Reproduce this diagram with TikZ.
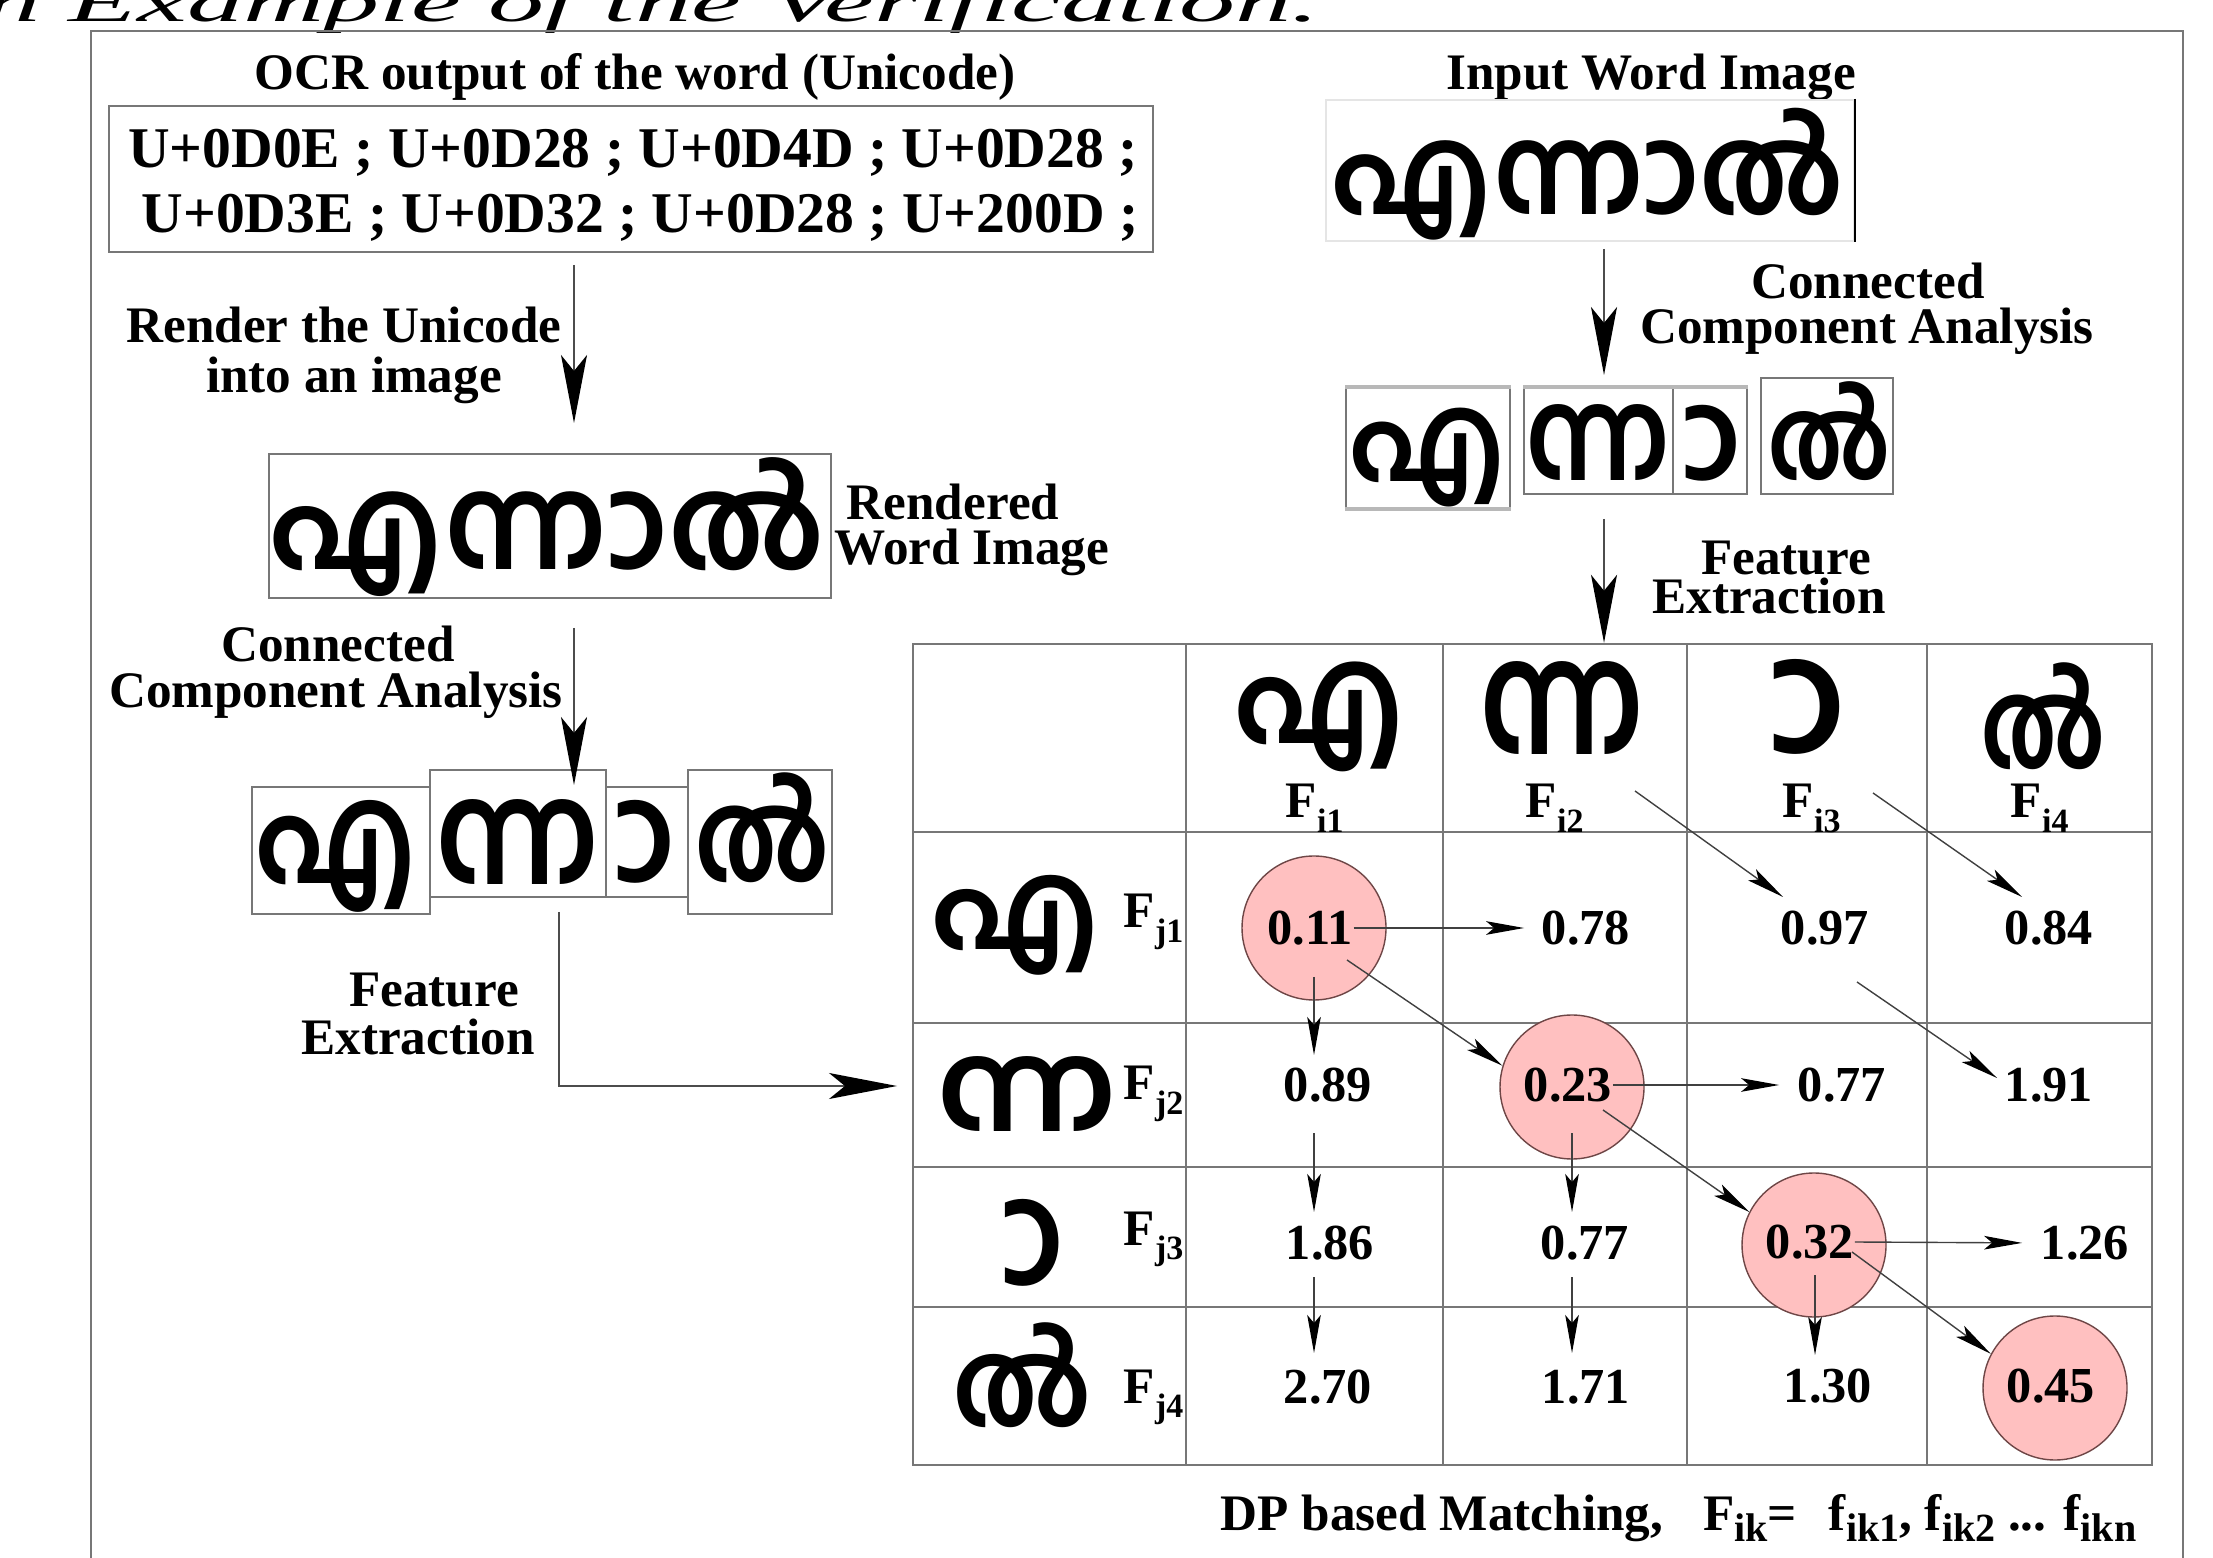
\documentclass[tikz,border=0pt]{standalone}
\usepackage{fontspec}
\usepackage{graphicx}
\setmainfont{Liberation Serif}
\newfontfamily\mal[Script=Malayalam]{Hind Kochi}
\usetikzlibrary{arrows.meta,fit}
\definecolor{frameg}{HTML}{777777}
\definecolor{pinkf}{RGB}{255,192,192}
\definecolor{circd}{RGB}{110,70,70}
\newcommand\mlw[3]{\resizebox*{#1}{#2}{\mal\bfseries #3}}
\newcommand\aamark{\setbox0=\hbox{\char"00A0}\hbox{\kern-\wd0\char"00A0ാ}}
\newcommand\fsub[1]{\raisebox{-3.6pt}{\fontsize{8.5}{9}\selectfont #1}}
\newcommand\csub[1]{\raisebox{-2.75pt}{\fontsize{10}{10}\selectfont #1}}
\begin{document}
\begin{tikzpicture}[x=0.25pt,y=-0.25pt,
  lbl/.style={font=\fontsize{12.8}{14}\selectfont\bfseries, inner sep=0, anchor=base},
  ulbl/.style={font=\fontsize{14.4}{16}\selectfont\bfseries, inner sep=0, anchor=base},
  num/.style={font=\fontsize{12.6}{14}\selectfont\bfseries, inner sep=0},
  flab/.style={font=\fontsize{12.8}{14}\selectfont\bfseries, inner sep=0, anchor=base west},
  gbox/.style={draw=frameg, line width=0.6pt, inner sep=0},
  gline/.style={draw=frameg, line width=0.6pt},
  glyph/.style={inner sep=0},
  circ/.style={circle, fill=pinkf, draw=circd, line width=0.35pt, minimum size=36pt, inner sep=0},
  big/.style={draw=black!70, line width=0.5pt, -{Stealth[length=17pt,width=6.5pt,inset=4pt,color=black]}},
  small/.style={draw=black!75, line width=0.35pt, -{Stealth[length=9.5pt,width=3.4pt,inset=2pt,color=black]}}]
\useasboundingbox (0,0) rectangle (2213,1558);

% title (cropped by the page edge, as in the reference)
\node[anchor=base east, inner sep=0] (title) at (1320,22)
  {\scalebox{2.0}[1]{\fontsize{14}{14}\selectfont\itshape An Example of the Verification.}};

% frame
\draw[gline] (91,1575) -- (91,31) -- (2183,31) -- (2183,1575);

% ---------- left column ----------
\node[lbl] (hocr) at (635,90) {OCR output of the word (Unicode)};
\node[gbox, fit={(109,106)(1153,252)}] (ucbox) {};
\node[ulbl] (uc1) at (633,168) {U+0D0E ; U+0D28 ; U+0D4D ; U+0D28 ;};
\node[ulbl] (uc2) at (640,233) {U+0D3E ; U+0D32 ; U+0D28 ; U+200D ;};

\node[lbl] (l1a) at (344,343) {Render the Unicode};
\node[lbl] (l1b) at (354,393) {into an image};
\coordinate (a1s) at (574,265);
\coordinate (a1e) at (574,423);
\draw[big] (a1s) -- (a1e);

\node[gbox, fit={(269,454)(831,598)}] (rbox) {};
\node[glyph] (rword) at (547,527.5) {\mlw{139pt}{34.75pt}{എന്നാൽ}};
\node[lbl] (l2a) at (953,520) {Rendered};
\node[lbl] (l2b) at (972,565) {Word Image};

\node[lbl] (l3a) at (338,662) {Connected};
\node[lbl] (l3b) at (336,708) {Component Analysis};
\coordinate (a2s) at (574,628);
\coordinate (a2e) at (574,785);

\node[gbox, fit={(252,787)(430,914)}] (lb1) {};
\node[gbox, fit={(430,770)(606,897)}] (lb2) {};
\node[gbox, fit={(606,787)(688,897)}] (lb3) {};
\node[gbox, fit={(688,770)(832,914)}] (lb4) {};
\node[glyph] (lg1) at (336,856) {\mlw{40.75pt}{28pt}{എ}};
\node[glyph] (lg2) at (518,842) {\mlw{41pt}{21.25pt}{ന്ന}};
\node[glyph] (lg3) at (645,842) {\mlw{15.25pt}{20.75pt}{\aamark}};
\node[glyph] (lg4) at (762,828) {\mlw{34pt}{27.5pt}{ൽ}};
\draw[big] (a2s) -- (a2e);

\node[lbl] (l4a) at (434,1007) {Feature};
\node[lbl] (l4b) at (418,1055) {Extraction};
\coordinate (a3s) at (559,912);
\coordinate (a3e) at (897,1086);
\draw[big] (a3s) |- (a3e);

% ---------- right column ----------
\node[lbl] (hin) at (1651,90) {Input Word Image};
\node[draw=black!10, line width=0.5pt, inner sep=0, fit={(1326,100)(1854,241)}] (inbox) {};
\draw[black, line width=0.4pt] (inbox.north east) -- (inbox.south east);
\node[glyph] (inword) at (1588,174) {\mlw{128.5pt}{33pt}{എന്നാൽ}};

\coordinate (a4s) at (1604,249);
\coordinate (a4e) at (1604,375);
\draw[big] (a4s) -- (a4e);
\node[lbl] (r1a) at (1868,299) {Connected};
\node[lbl] (r1b) at (1867,344) {Component Analysis};

\node[gbox, fit={(1346,388)(1510,508)}] (rb1) {};
\node[gbox, fit={(1524,388)(1673,494)}] (rb2) {};
\node[gbox, fit={(1673,388)(1747,494)}] (rb3) {};
\node[gbox, fit={(1761,378)(1893,494)}] (rb4) {};
\draw[black!28, line width=1pt] (rb1.north west) -- (rb1.north east);
\draw[black!28, line width=1pt] (rb1.south west) -- (rb1.south east);
\draw[black!28, line width=1pt] (rb2.north west) -- (rb3.north east);
\node[glyph] (rg1) at (1427,458) {\mlw{39.5pt}{24.75pt}{എ}};
\node[glyph] (rg2) at (1598,443) {\mlw{36.25pt}{19pt}{ന്ന}};
\node[glyph] (rg3) at (1712,443) {\mlw{14.75pt}{19pt}{\aamark}};
\node[glyph] (rg4) at (1829,431) {\mlw{31pt}{24.75pt}{ൽ}};

\node[lbl] (r2a) at (1786,575) {Feature};
\node[lbl] (r2b) at (1769,614) {Extraction};

% ---------- table ----------
\node[gbox, fit={(913,644)(2152,1465)}] (tbl) {};
\foreach \x in {1186,1443,1687,1927} \draw[gline] (\x,644) -- (\x,1465);
\foreach \y in {832,1023,1167,1307} \draw[gline] (913,\y) -- (2152,\y);
\coordinate (a5s) at (1604,519);
\draw[big] (a5s) -- (a5s |- tbl.north);

% header glyphs
\node[glyph] (hg1) at (1319,717) {\mlw{43pt}{27.5pt}{എ}};
\node[glyph] (hg2) at (1562,708) {\mlw{41.25pt}{23.25pt}{ന്ന}};
\node[glyph] (hg3) at (1808,707) {\mlw{19.25pt}{23.75pt}{\aamark}};
\node[glyph] (hg4) at (2043,716) {\mlw{31.5pt}{26.75pt}{ൽ}};
\node[flab] (fi1) at (1285,818) {F\fsub{i1}};
\node[flab] (fi2) at (1525,818) {F\fsub{i2}};
\node[flab] (fi3) at (1782,818) {F\fsub{i3}};
\node[flab] (fi4) at (2010,818) {F\fsub{i4}};

% row glyphs
\node[glyph] (vg1) at (1015,925) {\mlw{42.5pt}{25pt}{എ}};
\node[glyph] (vg2) at (1027,1094) {\mlw{45.25pt}{18.75pt}{ന്ന}};
\node[glyph] (vg3) at (1033,1243) {\mlw{15.75pt}{21.75pt}{\aamark}};
\node[glyph] (vg4) at (1022,1375) {\mlw{35pt}{26.25pt}{ൽ}};
\node[flab] (fj1) at (1123,928) {F\fsub{j1}};
\node[flab] (fj2) at (1123,1100) {F\fsub{j2}};
\node[flab] (fj3) at (1123,1245) {F\fsub{j3}};
\node[flab] (fj4) at (1123,1403) {F\fsub{j4}};

% optimal path circles
\node[circ] (c11) at (1314,928) {};
\node[circ] (c22) at (1572,1087) {};
\node[circ] (c33) at (1814,1245) {};
\node[circ] (c44) at (2055,1388) {};

% values
\node[num] (v11) at (1310,928) {0.11};
\node[num] (v12) at (1586,928) {0.78};
\node[num] (v13) at (1825,928) {0.97};
\node[num] (v14) at (2049,928) {0.84};
\node[num] (v21) at (1328,1085) {0.89};
\node[num] (v22) at (1568,1085) {0.23};
\node[num] (v23) at (1842,1085) {0.77};
\node[num] (v24) at (2049,1085) {1.91};
\node[num] (v31) at (1330,1243) {1.86};
\node[num] (v32) at (1585,1243) {0.77};
\node[num] (v33) at (1810,1242) {0.32};
\node[num] (v34) at (2085,1243) {1.26};
\node[num] (v41) at (1328,1387) {2.70};
\node[num] (v42) at (1586,1387) {1.71};
\node[num] (v43) at (1828,1386) {1.30};
\node[num] (v44) at (2051,1386) {0.45};

% horizontal arrows
\draw[small, shorten >=4.25pt] (v11.east) -- (v12.west);
\draw[small, shorten >=4.5pt] (v22.east) -- (v23.west);
\draw[small, shorten >=4.5pt] (v33.east) -- (v34.west);
% vertical arrows
\coordinate (p1s) at (1314,977);  \coordinate (p1e) at (1314,1055);
\coordinate (p2s) at (1314,1133); \coordinate (p2e) at (1314,1212);
\coordinate (p3s) at (1314,1277); \coordinate (p3e) at (1314,1353);
\coordinate (p4s) at (1572,1133); \coordinate (p4e) at (1572,1212);
\coordinate (p5s) at (1572,1277); \coordinate (p5e) at (1572,1353);
\coordinate (p6s) at (1815,1275); \coordinate (p6e) at (1815,1355);
\foreach \i in {1,...,6} \draw[small] (p\i s) -- (p\i e);
% diagonal arrows
\coordinate (d1s) at (1347,960);
\coordinate (d2s) at (1603,1110);
\coordinate (d3s) at (1852,1252);
\draw[small] (d1s) -- (c22.163);
\draw[small] (d2s) -- (c33.153);
\draw[small] (d3s) -- (c44.152);
\coordinate (d4s) at (1635,791);  \coordinate (d4e) at (1783,897);
\coordinate (d5s) at (1873,793);  \coordinate (d5e) at (2022,897);
\coordinate (d6s) at (1857,982);  \coordinate (d6e) at (1997,1078);
\draw[small] (d4s) -- (d4e);
\draw[small] (d5s) -- (d5e);
\draw[small] (d6s) -- (d6e);

% caption
\node[lbl, anchor=base west] (cap) at (1220,1530)
  {DP based Matching,\hspace{10pt}F\csub{ik}=\hspace{8pt}f\csub{ik1}, f\csub{ik2} ... f\csub{ikn}};
\end{tikzpicture}
\end{document}
